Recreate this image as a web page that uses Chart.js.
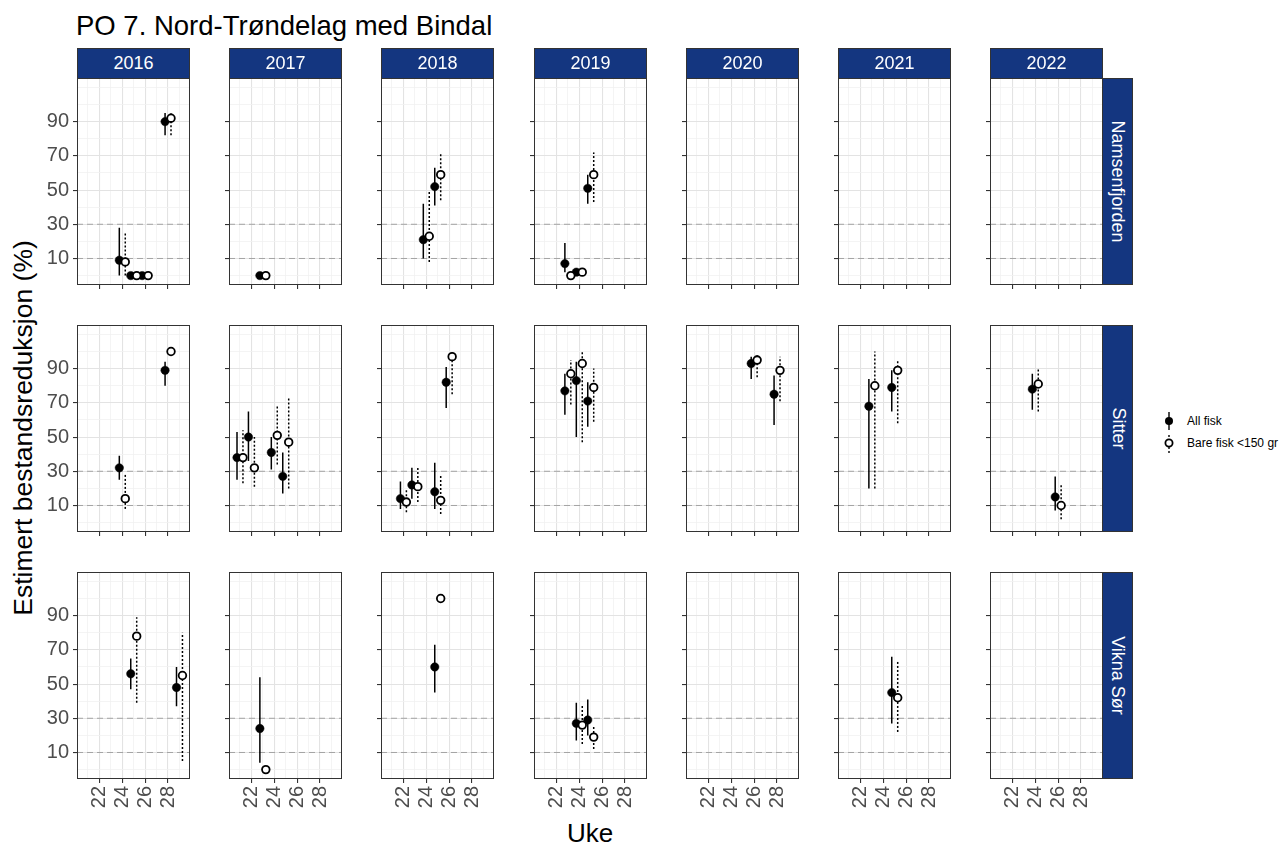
<!DOCTYPE html>
<html>
<head>
<meta charset="utf-8">
<script src="https://cdn.jsdelivr.net/npm/chart.js"></script>
<style>
  body { margin: 0; background: #fff; }
  #wrap { position: relative; width: 1281px; height: 847px; overflow: hidden; font-family: "Liberation Sans", Arial, sans-serif; }
  #wrap canvas { position: absolute; }
  .txt { position: absolute; white-space: nowrap; line-height: 1; }
  .strip { position: absolute; background: #143680; border: 1px solid #333; box-sizing: border-box;
           color: #fff; font-size: 18px; display: flex; align-items: center; justify-content: center; }
  .vlab { transform: rotate(90deg); white-space: nowrap; }
</style>
</head>
<body>
<div id="wrap">
  <div class="txt" style="left:76px;top:12px;font-size:27.5px;color:#000;">PO 7. Nord-Trøndelag med Bindal</div>
  <div class="txt" style="left:23px;top:428px;font-size:26.5px;transform:translate(-50%,-50%) rotate(-90deg);">Estimert bestandsreduksjon (%)</div>
  <div class="txt" style="left:590px;top:833px;font-size:26px;transform:translate(-50%,-50%);">Uke</div>
  <svg style="position:absolute;left:0;top:0" width="1281" height="847">
    <line x1="1169" y1="412" x2="1169" y2="430" stroke="#000" stroke-width="1.4"/>
    <circle cx="1169" cy="421" r="4" fill="#000"/>
    <line x1="1169" y1="435" x2="1169" y2="453" stroke="#000" stroke-width="1.4" stroke-dasharray="2,2"/>
    <circle cx="1169" cy="443" r="3.6" fill="#fff" stroke="#000" stroke-width="1.8"/>
  </svg>
  <div class="txt" style="left:1187px;top:415px;font-size:12px;">All fisk</div>
  <div class="txt" style="left:1187px;top:437px;font-size:12px;">Bare fisk &lt;150 gr</div>
</div>
<script>
// facets
const sites = ['Namsenfjorden', 'Sitter', 'Vikna Sør'];
const years = [2016, 2017, 2018, 2019, 2020, 2021, 2022];

// one entry per site/year/week
const obsSite = [
  'Namsenfjorden','Namsenfjorden','Namsenfjorden','Namsenfjorden','Namsenfjorden',
  'Namsenfjorden','Namsenfjorden','Namsenfjorden','Namsenfjorden','Namsenfjorden',
  'Sitter','Sitter','Sitter','Sitter','Sitter','Sitter','Sitter','Sitter','Sitter','Sitter',
  'Sitter','Sitter','Sitter','Sitter','Sitter','Sitter','Sitter','Sitter','Sitter',
  'Vikna Sør','Vikna Sør','Vikna Sør','Vikna Sør','Vikna Sør','Vikna Sør','Vikna Sør'
];
const obsYear = [
  2016,2016,2016,2016,2017,2018,2018,2019,2019,2019,
  2016,2016,2017,2017,2017,2017,2018,2018,2018,2018,2019,2019,2019,2020,2020,2021,2021,2022,2022,
  2016,2016,2017,2018,2019,2019,2021
];
const obsWeek = [
  24,25,26,28,23,24,25,23,24,25,
  24,28,21,22,24,25,22,23,25,26,23,24,25,26,28,23,25,24,26,
  25,29,23,25,24,25,25
];
const allFisk = [
  9,0,0,90,0,21,52,7,2,51,
  32,89,38,50,41,27,14,22,18,82,77,83,71,93,75,68,79,78,15,
  56,48,24,60,27,29,45
];
const allLo = [
  0,null,null,82,null,10,41,2,null,42,
  25,80,25,36,31,17,8,14,8,67,63,50,56,84,57,20,65,66,7,
  47,37,4,45,17,20,27
];
const allHi = [
  28,null,null,95,null,42,63,19,null,59,
  39,94,53,65,50,41,24,32,35,91,87,94,82,97,86,84,89,87,27,
  65,60,54,73,39,41,66
];
const bareFisk = [
  8,0,0,92,0,23,59,0,2,59,
  14,100,38,32,51,47,12,21,13,97,87,93,79,95,89,80,89,81,10,
  78,55,0,100,26,19,42
];
const bareLo = [
  0,null,null,82,null,8,44,null,null,43,
  8,null,23,21,34,20,6,12,5,75,69,47,59,85,71,20,58,65,2,
  39,5,null,null,15,12,22
];
const bareHi = [
  25,null,null,96,null,50,71,null,null,72,
  29,null,54,50,68,73,20,32,28,100,95,100,90,99,97,100,95,90,22,
  89,80,null,null,38,26,64
];

const xTickLabels = [22, 24, 26, 28];
const yTickLabels = [10, 30, 50, 70, 90];
const refLines = [10, 30];

const dodge = 0.26;
const xMin = 20.04, xMax = 29.92;
const yMin = -5.5, yMax = 115.5;

const colLeft = [77, 229, 381, 534, 686, 838, 990];
const rowTop = [78, 325, 572];
const panelW = 113, panelH = 207;
const L = 45;
const FONT = '"Liberation Sans", Arial, sans-serif';
const wrap = document.getElementById('wrap');

const borderPlugin = {
  id: 'panelBorder',
  afterDraw(chart) {
    const a = chart.chartArea, ctx = chart.ctx;
    ctx.save();
    ctx.strokeStyle = '#333';
    ctx.lineWidth = 1;
    ctx.strokeRect(a.left + 0.5, a.top + 0.5, a.right - a.left - 1, a.bottom - a.top - 1);
    ctx.restore();
  }
};

function bars(idx, lo, hi, off) {
  const out = [];
  idx.forEach(i => {
    if (lo[i] == null) return;
    const x = obsWeek[i] + off;
    out.push({x: x, y: lo[i]}, {x: x, y: hi[i]}, {x: x, y: null});
  });
  return out;
}

sites.forEach((site, r) => {
  years.forEach((year, c) => {
    const B = r === 2 ? 40 : 6;
    const cv = document.createElement('canvas');
    cv.width = panelW + L;
    cv.height = panelH + B;
    cv.style.left = (colLeft[c] - L) + 'px';
    cv.style.top = rowTop[r] + 'px';
    wrap.appendChild(cv);

    const idx = obsSite.map((s, i) => i).filter(i => obsSite[i] === site && obsYear[i] === year);

    const datasets = [
      {
        label: 'Bare fisk <150 gr',
        data: idx.map(i => ({x: obsWeek[i] + dodge, y: bareFisk[i]})),
        pointRadius: 3.8, pointBorderWidth: 1.8,
        pointBackgroundColor: '#fff', pointBorderColor: '#000'
      },
      {
        label: 'All fisk',
        data: idx.map(i => ({x: obsWeek[i] - dodge, y: allFisk[i]})),
        pointRadius: 4.2, pointBorderWidth: 0.5,
        pointBackgroundColor: '#000', pointBorderColor: '#000'
      },
      {
        type: 'line', data: bars(idx, allLo, allHi, -dodge),
        borderColor: '#000', borderWidth: 1.5, pointRadius: 0, spanGaps: false
      },
      {
        type: 'line', data: bars(idx, bareLo, bareHi, dodge),
        borderColor: '#000', borderWidth: 1.5, borderDash: [2, 2], pointRadius: 0, spanGaps: false
      }
    ];
    refLines.forEach(v => datasets.push({
      type: 'line', data: [{x: xMin, y: v}, {x: xMax, y: v}],
      borderColor: '#a3a3a3', borderWidth: 1, borderDash: [6, 4], pointRadius: 0
    }));

    new Chart(cv.getContext('2d'), {
      type: 'scatter',
      data: { datasets: datasets },
      options: {
        responsive: false,
        animation: false,
        devicePixelRatio: 1,
        events: [],
        layout: { padding: 0, autoPadding: false },
        plugins: { legend: { display: false }, tooltip: { enabled: false } },
        scales: {
          x: {
            type: 'linear', min: xMin, max: xMax,
            afterBuildTicks: s => { s.ticks = [21, 22, 23, 24, 25, 26, 27, 28, 29].map(v => ({value: v})); },
            afterFit: s => { s.height = B; s.paddingLeft = 0; s.paddingRight = 0; },
            border: { display: false },
            grid: {
              drawTicks: true, tickLength: 4,
              color: ctx => xTickLabels.includes(ctx.tick.value) ? '#e3e3e3' : '#f1f1f1',
              lineWidth: ctx => xTickLabels.includes(ctx.tick.value) ? 1.1 : 0.8,
              tickColor: ctx => xTickLabels.includes(ctx.tick.value) ? '#333' : 'rgba(0,0,0,0)',
              tickWidth: 1.1
            },
            ticks: {
              display: r === 2, autoSkip: false, minRotation: 90, maxRotation: 90, padding: 3,
              color: '#4d4d4d', font: { family: FONT, size: 20 },
              callback: v => xTickLabels.includes(v) ? String(v) : ''
            }
          },
          y: {
            type: 'linear', min: yMin, max: yMax,
            afterBuildTicks: s => { s.ticks = [0, 10, 20, 30, 40, 50, 60, 70, 80, 90, 100, 110].map(v => ({value: v})); },
            afterFit: s => { s.width = L; s.paddingTop = 0; s.paddingBottom = 0; },
            border: { display: false },
            grid: {
              drawTicks: true, tickLength: 4,
              color: ctx => yTickLabels.includes(ctx.tick.value) ? '#e3e3e3' : '#f1f1f1',
              lineWidth: ctx => yTickLabels.includes(ctx.tick.value) ? 1.1 : 0.8,
              tickColor: ctx => yTickLabels.includes(ctx.tick.value) ? '#333' : 'rgba(0,0,0,0)',
              tickWidth: 1.1
            },
            ticks: {
              display: c === 0, autoSkip: false, padding: 4,
              color: '#4d4d4d', font: { family: FONT, size: 20 },
              callback: v => yTickLabels.includes(v) ? String(v) : ''
            }
          }
        }
      },
      plugins: [borderPlugin]
    });
  });

  // site strip on the right
  const st = document.createElement('div');
  st.className = 'strip';
  st.style.left = '1102px';
  st.style.top = rowTop[r] + 'px';
  st.style.width = '31px';
  st.style.height = panelH + 'px';
  st.innerHTML = '<span class="vlab">' + site + '</span>';
  wrap.appendChild(st);
});

// year strips on top
years.forEach((year, c) => {
  const st = document.createElement('div');
  st.className = 'strip';
  st.style.left = colLeft[c] + 'px';
  st.style.top = '48px';
  st.style.width = panelW + 'px';
  st.style.height = '31px';
  st.textContent = year;
  wrap.appendChild(st);
});
</script>
</body>
</html>
